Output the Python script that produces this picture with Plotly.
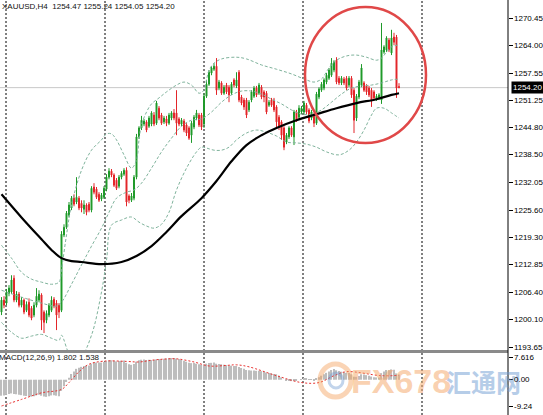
import plotly.graph_objects as go

# ---- price data (XAUUSD H4), one value per candle ----
open_ = [1201.8, 1204.6, 1203.9, 1206.2, 1206.5, 1209.7, 1204.6, 1206.0, 1203.4, 1204.6,
         1202.2, 1204.1, 1202.7, 1201.1, 1203.4, 1204.6, 1205.8, 1201.8, 1199.9, 1201.1,
         1202.2, 1204.8, 1203.9, 1203.4, 1202.2, 1219.8, 1221.6, 1224.4, 1226.1, 1228.4,
         1227.5, 1228.4, 1227.2, 1225.8, 1226.8, 1227.0, 1225.6, 1231.0, 1230.5, 1229.3,
         1228.2, 1228.6, 1230.5, 1233.3, 1234.7, 1233.8, 1232.6, 1231.2, 1233.3, 1234.0,
         1234.9, 1228.9, 1227.9, 1228.4, 1233.3, 1242.7, 1244.8, 1245.7, 1246.2, 1245.2,
         1245.7, 1247.8, 1245.9, 1249.4, 1247.8, 1246.2, 1246.9, 1245.9, 1247.1, 1248.3,
         1248.3, 1246.9, 1245.7, 1246.4, 1245.5, 1244.8, 1243.1, 1245.0, 1247.1, 1247.8,
         1247.8, 1245.7, 1252.2, 1255.0, 1257.6, 1258.5, 1259.2, 1254.1, 1255.3, 1252.9,
         1254.8, 1254.3, 1252.9, 1256.0, 1254.6, 1257.8, 1252.0, 1251.3, 1251.3, 1249.0,
         1251.3, 1252.2, 1254.1, 1252.9, 1254.3, 1253.2, 1252.9, 1250.1, 1251.3, 1251.3,
         1249.7, 1247.3, 1246.2, 1244.8, 1241.5, 1242.7, 1244.8, 1242.7, 1248.5, 1247.3,
         1248.5, 1248.5, 1250.1, 1249.0, 1247.1, 1247.8, 1245.9, 1252.0, 1253.6, 1254.1,
         1255.5, 1256.4, 1257.1, 1258.3, 1260.6, 1256.4, 1255.3, 1256.2, 1256.4, 1254.8,
         1256.4, 1253.6, 1247.1, 1252.0, 1254.8, 1255.3, 1254.6, 1254.1, 1253.6, 1253.2,
         1251.5, 1251.8, 1251.3, 1262.5, 1263.0, 1265.3, 1262.3, 1266.0, 1266.0, 1254.47]

high = [1205.3, 1205.5, 1207.2, 1208.1, 1210.4, 1210.4, 1206.7, 1206.5, 1205.3, 1205.0,
        1204.3, 1205.0, 1203.2, 1204.1, 1207.4, 1206.9, 1206.2, 1202.2, 1202.2, 1203.9,
        1205.5, 1205.3, 1204.6, 1203.9, 1220.7, 1222.3, 1225.4, 1227.5, 1228.9, 1229.3,
        1233.3, 1228.9, 1227.9, 1227.9, 1227.2, 1227.5, 1231.2, 1231.9, 1231.0, 1229.8,
        1229.6, 1231.2, 1234.0, 1235.4, 1235.2, 1234.2, 1233.1, 1233.8, 1234.7, 1235.4,
        1235.6, 1229.3, 1229.6, 1233.8, 1243.4, 1245.2, 1247.6, 1246.9, 1246.6, 1247.6,
        1248.7, 1248.5, 1251.1, 1249.9, 1248.3, 1247.6, 1247.6, 1248.3, 1248.7, 1249.2,
        1253.6, 1247.3, 1247.1, 1246.9, 1245.9, 1245.2, 1246.4, 1247.8, 1249.0, 1248.3,
        1248.3, 1252.9, 1256.0, 1258.3, 1259.2, 1259.9, 1261.1, 1256.0, 1255.7, 1254.8,
        1255.3, 1254.8, 1255.5, 1256.4, 1257.8, 1258.3, 1252.5, 1251.8, 1251.8, 1251.3,
        1253.6, 1254.6, 1254.6, 1255.3, 1254.8, 1253.6, 1253.4, 1251.3, 1251.8, 1251.8,
        1250.1, 1247.8, 1246.6, 1245.2, 1243.6, 1245.2, 1245.2, 1249.0, 1249.0, 1250.1,
        1249.9, 1251.1, 1250.6, 1249.4, 1249.0, 1248.3, 1253.2, 1254.3, 1255.5, 1256.4,
        1257.6, 1258.8, 1261.1, 1260.6, 1261.3, 1256.9, 1256.9, 1256.7, 1256.9, 1256.9,
        1256.9, 1254.1, 1252.7, 1256.0, 1259.7, 1255.7, 1255.0, 1254.6, 1254.1, 1253.6,
        1252.7, 1252.9, 1269.3, 1264.1, 1266.2, 1265.8, 1267.7, 1267.0, 1266.5, 1255.24]

low = [1201.1, 1202.7, 1203.4, 1205.5, 1206.0, 1204.1, 1204.1, 1202.9, 1202.9, 1201.3,
       1201.8, 1200.6, 1199.9, 1200.6, 1202.9, 1204.1, 1197.6, 1196.9, 1199.2, 1200.6,
       1201.8, 1202.7, 1197.6, 1200.4, 1201.8, 1219.3, 1221.2, 1223.9, 1225.6, 1226.5,
       1227.0, 1225.6, 1225.1, 1224.7, 1224.4, 1225.1, 1225.1, 1229.3, 1228.2, 1227.5,
       1227.7, 1228.2, 1230.0, 1232.8, 1233.3, 1231.0, 1230.3, 1230.7, 1232.8, 1233.6,
       1226.5, 1227.2, 1227.5, 1227.9, 1232.8, 1242.2, 1244.3, 1245.2, 1243.8, 1244.8,
       1245.2, 1245.2, 1245.5, 1246.6, 1245.5, 1245.7, 1245.2, 1245.5, 1246.6, 1246.6,
       1243.1, 1245.2, 1245.2, 1243.8, 1242.9, 1242.0, 1241.3, 1244.5, 1246.6, 1245.0,
       1244.3, 1244.8, 1251.8, 1254.6, 1257.1, 1258.1, 1252.5, 1253.6, 1252.5, 1252.5,
       1252.7, 1250.8, 1252.5, 1254.3, 1254.1, 1250.8, 1250.1, 1249.0, 1247.1, 1248.5,
       1250.8, 1251.8, 1252.0, 1252.5, 1251.5, 1250.8, 1248.0, 1249.7, 1249.7, 1248.5,
       1245.0, 1244.3, 1242.0, 1239.6, 1241.0, 1242.2, 1242.7, 1240.8, 1246.2, 1246.9,
       1248.0, 1248.0, 1248.0, 1245.9, 1246.6, 1245.0, 1245.5, 1251.5, 1253.2, 1253.6,
       1255.0, 1256.0, 1256.7, 1257.8, 1255.0, 1254.8, 1254.8, 1254.8, 1253.6, 1254.3,
       1251.8, 1243.6, 1246.4, 1251.5, 1254.3, 1253.2, 1252.5, 1252.0, 1249.7, 1251.3,
       1251.1, 1251.3, 1250.4, 1262.1, 1262.5, 1262.5, 1261.8, 1264.1, 1251.8, 1254.05]

close = [1204.6, 1203.4, 1206.5, 1207.4, 1209.3, 1204.6, 1206.0, 1203.4, 1204.6, 1201.8,
         1203.6, 1201.1, 1200.4, 1203.4, 1205.5, 1206.0, 1199.9, 1199.4, 1201.5, 1203.4,
         1204.6, 1203.2, 1201.1, 1201.8, 1220.0, 1221.6, 1224.9, 1226.8, 1228.4, 1227.0,
         1228.6, 1226.1, 1226.1, 1226.8, 1225.1, 1225.6, 1230.7, 1229.8, 1228.6, 1227.9,
         1229.1, 1230.7, 1233.3, 1234.7, 1233.8, 1231.4, 1230.7, 1233.3, 1234.2, 1234.9,
         1227.5, 1227.9, 1228.9, 1233.3, 1242.7, 1244.8, 1246.6, 1246.4, 1244.3, 1247.1,
         1248.3, 1245.7, 1250.6, 1247.1, 1245.9, 1247.1, 1245.9, 1247.8, 1248.3, 1247.1,
         1245.9, 1245.7, 1246.6, 1244.3, 1243.6, 1242.4, 1245.9, 1247.3, 1248.3, 1245.5,
         1245.0, 1252.2, 1255.0, 1257.8, 1258.8, 1259.2, 1253.6, 1255.5, 1252.9, 1254.3,
         1253.2, 1252.5, 1255.0, 1254.8, 1256.0, 1251.3, 1250.6, 1249.7, 1247.8, 1250.8,
         1253.2, 1254.1, 1252.5, 1254.8, 1252.0, 1252.0, 1248.5, 1250.8, 1250.1, 1249.0,
         1246.2, 1245.0, 1243.1, 1240.3, 1243.1, 1244.8, 1243.1, 1248.5, 1246.6, 1249.4,
         1249.4, 1250.6, 1248.5, 1246.4, 1248.5, 1245.9, 1252.7, 1253.9, 1255.0, 1256.0,
         1257.1, 1258.3, 1259.9, 1260.2, 1255.5, 1255.3, 1256.4, 1255.3, 1254.1, 1256.4,
         1252.5, 1246.6, 1252.2, 1255.5, 1258.8, 1253.6, 1253.2, 1252.5, 1251.3, 1251.8,
         1252.2, 1252.5, 1263.0, 1263.7, 1265.8, 1263.0, 1265.8, 1264.8, 1254.1, 1254.20]

# ---- indicators at selected candles ----
ma_idx = [0, 8, 16, 20, 24, 28, 32, 40, 48, 54, 60, 66, 72, 80, 86, 92, 98, 104, 110,
          118, 126, 134, 142, 150, 156, 159]
ma_val = [1229.3, 1223.9, 1218.8, 1216.3, 1214.4, 1213.7, 1213.5, 1213.0, 1213.5, 1214.9,
          1217.2, 1220.5, 1224.2, 1228.4, 1232.4, 1237.0, 1240.8, 1243.1, 1244.8, 1246.6,
          1248.0, 1249.4, 1250.6, 1251.5, 1252.5, 1252.9]

bb_up_idx = [0, 4, 8, 12, 16, 20, 23, 24, 26, 28, 32, 36, 40, 42, 44, 46, 49, 52, 54, 55,
             56, 58, 60, 63, 66, 70, 73, 76, 79, 81, 82, 83, 85, 88, 94, 98, 104, 110, 116,
             122, 125, 128, 131, 134, 138, 142, 146, 150, 152, 154, 156, 159]
bb_up = [1217.4, 1214.4, 1211.1, 1209.5, 1208.8, 1208.3, 1208.8, 1211.8, 1219.8, 1226.8,
         1234.9, 1239.6, 1242.0, 1243.4, 1243.4, 1242.0, 1238.5, 1235.4, 1237.3, 1242.0,
         1245.5, 1248.5, 1250.4, 1251.8, 1253.2, 1254.8, 1255.5, 1254.8, 1252.9, 1253.6,
         1256.0, 1258.3, 1259.9, 1260.9, 1261.3, 1260.9, 1259.5, 1258.5, 1257.4, 1256.0,
         1255.5, 1256.2, 1258.8, 1260.6, 1261.6, 1261.8, 1261.3, 1260.6, 1261.1, 1262.5,
         1263.7, 1264.2]

bb_mid_idx = [0, 8, 16, 22, 24, 28, 32, 36, 40, 43, 46, 50, 53, 56, 60, 64, 68, 72, 76, 80,
              84, 88, 92, 96, 100, 104, 108, 112, 116, 120, 124, 128, 132, 136, 140, 144,
              148, 152, 156, 159]
bb_mid = [1206.9, 1205.3, 1203.9, 1203.2, 1204.1, 1208.3, 1212.8, 1217.2, 1221.4, 1225.1,
          1228.4, 1229.8, 1230.3, 1231.9, 1235.4, 1239.2, 1242.4, 1245.2, 1246.6, 1246.9,
          1248.5, 1250.8, 1252.5, 1253.4, 1253.4, 1252.7, 1251.5, 1250.4, 1249.0, 1248.0,
          1248.0, 1249.0, 1250.8, 1252.7, 1254.1, 1254.6, 1254.8, 1255.3, 1256.0, 1256.2]

bb_low_idx = [0, 4, 8, 12, 16, 20, 23, 24, 28, 32, 36, 40, 42, 44, 48, 52, 55, 58, 61, 64,
              67, 70, 74, 78, 80, 82, 85, 88, 91, 94, 98, 102, 106, 110, 114, 118, 122, 126,
              130, 135, 139, 142, 145, 148, 150, 153, 156, 159]
bb_low = [1199.4, 1197.1, 1195.7, 1196.2, 1196.6, 1195.7, 1195.2, 1196.4, 1191.3, 1191.7,
          1196.4, 1206.5, 1213.9, 1222.1, 1223.3, 1224.0, 1222.8, 1221.9, 1221.4, 1222.3,
          1225.1, 1230.3, 1235.4, 1239.2, 1240.3, 1240.1, 1239.6, 1239.6, 1240.3, 1242.0,
          1243.6, 1244.3, 1243.8, 1242.9, 1241.5, 1241.3, 1241.0, 1240.3, 1239.2, 1238.5,
          1239.6, 1241.5, 1244.3, 1247.8, 1249.4, 1249.4, 1248.3, 1247.1]

# MACD(12,26,9): main line drawn as histogram, signal as dotted line
macd_main = [-5.6, -5.5, -5.3, -5.0, -4.8, -5.0, -5.1, -5.3, -5.4, -5.6,
             -5.7, -5.8, -5.9, -5.8, -5.5, -5.3, -5.6, -5.9, -6.0, -5.8,
             -5.5, -5.4, -5.6, -5.8, -3.9, -2.3, -0.8, 0.7, 2.0, 2.9,
             3.8, 4.2, 4.5, 4.8, 4.9, 5.0, 5.6, 5.9, 6.0, 6.0,
             6.0, 6.2, 6.5, 6.8, 6.8, 6.6, 6.4, 6.5, 6.6, 6.7,
             5.9, 5.4, 5.2, 5.5, 6.3, 6.8, 7.0, 7.1, 6.9, 7.0,
             6.9, 6.9, 7.1, 7.2, 7.2, 7.3, 7.4, 7.5, 7.6, 7.6,
             7.4, 7.2, 6.9, 6.6, 6.3, 5.9, 5.8, 5.8, 5.6, 5.4,
             5.2, 5.3, 5.6, 5.8, 5.9, 6.0, 5.6, 5.5, 5.4, 5.2,
             5.1, 4.9, 4.9, 4.8, 4.8, 4.4, 4.1, 3.8, 3.4, 3.3,
             3.2, 3.2, 3.1, 3.1, 3.0, 2.8, 2.5, 2.3, 2.2, 2.0,
             1.9, 1.4, 0.8, 0.0, -0.3, -0.3, -0.5, -0.2, -0.2, 0.0,
             0.1, 0.3, 0.3, 0.1, 0.1, -0.2, 0.4, 0.9, 1.4, 1.9,
             2.4, 2.9, 3.4, 3.7, 3.3, 3.0, 2.8, 2.6, 2.4, 2.3,
             1.9, 1.0, 1.0, 1.3, 1.9, 1.8, 1.6, 1.4, 1.1, 0.9,
             0.8, 0.8, 2.3, 2.9, 3.4, 3.3, 3.6, 3.5, 2.2, 1.802]
sig_idx = [0, 8, 16, 24, 27, 31, 35, 41, 50, 55, 60, 65, 70, 77, 83, 90, 94, 99, 110,
           120, 127, 133, 138, 152, 159]
sig_val = [-9.2, -6.9, -4.6, -3.4, -1.0, 2.8, 5.4, 6.5, 6.4, 6.2, 6.8, 7.2, 7.3, 6.2, 4.8,
           5.0, 5.2, 4.5, 1.4, -1.0, -1.0, 1.4, 2.8, 1.4, 1.538]

price_ticks = [1270.45, 1264.00, 1257.55, 1251.25, 1244.80, 1238.50, 1232.05, 1225.60,
               1219.30, 1212.85, 1206.40, 1200.10, 1193.65]
macd_ticks = [7.616, 0.0, -9.24]
macd_tick_text = ['7.616', '0.00', '-9.24']
separators = [1.8, 41.4, 81.0, 120.6, 168.2]   # period separators (candle index)
bid = 1254.20

W, H = 543, 415
XR = 508 / W           # right edge of the plot area
FONT = 'Liberation Sans, Arial, sans-serif'
idx = list(range(len(close)))

fig = go.Figure()

# MACD panel
fig.add_trace(go.Bar(x=idx, y=macd_main, yaxis='y2', width=0.45,
                     marker=dict(color='#bdbdbd', line=dict(width=0))))
fig.add_trace(go.Scatter(x=sig_idx, y=sig_val, yaxis='y2', mode='lines', line_shape='spline',
                         line=dict(color='#e8312f', width=1, dash='2px,2px')))

# Bollinger bands
for bx, by in [(bb_up_idx, bb_up), (bb_mid_idx, bb_mid), (bb_low_idx, bb_low)]:
    fig.add_trace(go.Scatter(x=bx, y=by, mode='lines', line_shape='spline',
                             line=dict(color='#7fb39c', width=1, dash='3px,2px')))

# moving average
fig.add_trace(go.Scatter(x=ma_idx, y=ma_val, mode='lines', line_shape='spline',
                         line=dict(color='#000000', width=2.2)))

# candles
fig.add_trace(go.Candlestick(x=idx, open=open_, high=high, low=low, close=close,
                             whiskerwidth=0,
                             increasing=dict(line=dict(color='#1f9a2a', width=1), fillcolor='#1f9a2a'),
                             decreasing=dict(line=dict(color='#e3262a', width=1), fillcolor='#e3262a')))

shapes = []
# vertical dotted separators through both panels
for s in separators:
    shapes.append(dict(type='line', xref='x', yref='paper', x0=s, x1=s, y0=0, y1=1,
                       line=dict(color='#000000', width=1, dash='2px,2px'), layer='below'))
# bid line
shapes.append(dict(type='line', xref='paper', yref='y', x0=0, x1=XR, y0=bid, y1=bid,
                   line=dict(color='#c8c8c8', width=1), layer='below'))
# panel separator
shapes.append(dict(type='line', xref='paper', yref='paper', x0=0, x1=XR,
                   y0=1 - 351.5 / H, y1=1 - 351.5 / H, line=dict(color='#8a8a8a', width=3)))
# right axis line
shapes.append(dict(type='line', xref='paper', yref='paper', x0=XR, x1=XR, y0=0, y1=1,
                   line=dict(color='#000000', width=1)))
# red highlight circle
shapes.append(dict(type='circle', xref='paper', yref='paper',
                   x0=305 / W, x1=426 / W, y0=1 - 143 / H, y1=1 - 7 / H,
                   line=dict(color='#e04848', width=2.5)))
# watermark logo ring
shapes.append(dict(type='circle', xref='paper', yref='paper',
                   x0=320 / W, x1=351 / W, y0=1 - 397 / H, y1=1 - 364 / H,
                   line=dict(color='rgba(244,160,90,0.45)', width=5)))
shapes.append(dict(type='circle', xref='paper', yref='paper',
                   x0=329 / W, x1=343 / W, y0=1 - 388 / H, y1=1 - 373 / H,
                   line=dict(color='rgba(120,160,210,0.45)', width=3)))

label_font = dict(family=FONT, size=8, color='#000000')
annotations = [
    dict(text='XAUUSD,H4  1254.47 1255.24 1254.05 1254.20', xref='paper', yref='paper',
         x=0, y=1 - 6 / H, xanchor='left', yanchor='middle', showarrow=False,
         font=dict(family=FONT, size=8, color='#111111')),
    dict(text='MACD(12,26,9) 1.802 1.538', xref='paper', yref='paper',
         x=-3 / W, y=1 - 357 / H, xanchor='left', yanchor='middle', showarrow=False,
         font=dict(family=FONT, size=8, color='#111111')),
    dict(text='<b>FX678</b>', xref='paper', yref='paper', x=349 / W, y=1 - 381 / H,
         xanchor='left', yanchor='middle', showarrow=False,
         font=dict(family='Liberation Sans Narrow, Liberation Sans, sans-serif', size=34,
                   color='rgba(245,170,110,0.55)')),
    dict(text='<b>汇通网</b>', xref='paper', yref='paper', x=444 / W, y=1 - 381 / H,
         xanchor='left', yanchor='middle', showarrow=False,
         font=dict(family='Noto Sans CJK SC', size=25, color='rgba(110,155,210,0.5)')),
]
# right-hand scale labels
for t in price_ticks:
    annotations.append(dict(text='%.2f' % t, xref='paper', yref='y', x=513 / W, y=t,
                            xanchor='left', yanchor='middle', showarrow=False,
                            font=label_font, borderpad=0))
for t, s in zip(macd_ticks, macd_tick_text):
    annotations.append(dict(text=s, xref='paper', yref='y2', x=513 / W, y=t,
                            xanchor='left', yanchor='middle', showarrow=False,
                            font=label_font, borderpad=0))
annotations.append(dict(text='1254.20', xref='paper', yref='y', x=511 / W, y=bid,
                        xanchor='left', yanchor='middle', showarrow=False,
                        bgcolor='#000000', borderpad=1,
                        font=dict(family=FONT, size=8, color='#ffffff')))

axis_common = dict(side='right', showgrid=False, zeroline=False, showline=False,
                   showticklabels=False, ticks='outside', ticklen=4,
                   tickcolor='#000000', tickwidth=1, fixedrange=True)

fig.update_layout(
    width=W, height=H,
    margin=dict(l=0, r=0, t=0, b=0),
    paper_bgcolor='#ffffff', plot_bgcolor='#ffffff',
    showlegend=False, hovermode=False, boxgap=0.45,
    xaxis=dict(domain=[0, XR], range=[-0.6, 202.6], showticklabels=False, showgrid=False,
               zeroline=False, ticks='', rangeslider=dict(visible=False), anchor='y2'),
    yaxis=dict(domain=[1 - 350 / H, 1], range=[1192.95, 1274.66], anchor='x',
               tickvals=price_ticks, **axis_common),
    yaxis2=dict(domain=[1 - 412 / H, 1 - 353 / H], range=[-11.3, 9.34], anchor='x',
                tickvals=macd_ticks, **axis_common),
    shapes=shapes, annotations=annotations,
)

fig.write_html('out.html', config={'displayModeBar': False},
               post_script="document.body.style.margin='0';")
